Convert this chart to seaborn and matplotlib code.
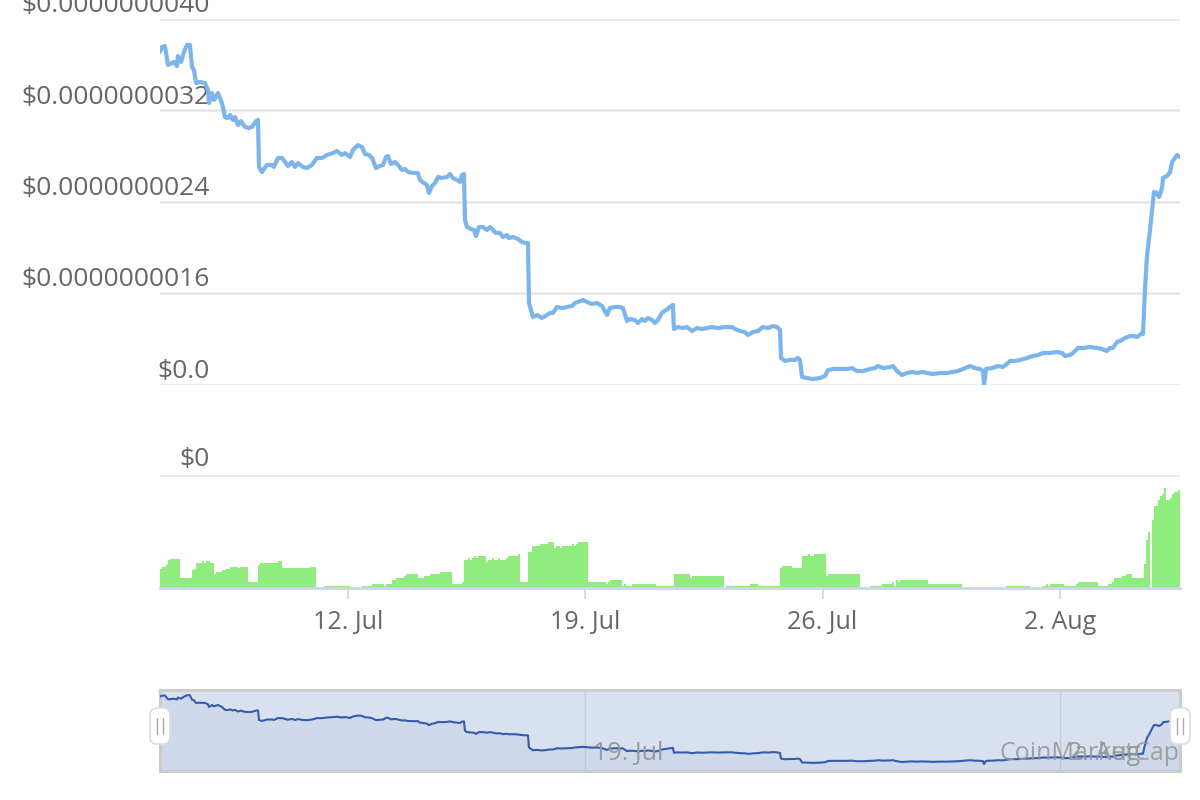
import pandas as pd
import seaborn as sns
import matplotlib.pyplot as plt
import matplotlib.transforms as mtransforms
from matplotlib.patches import FancyBboxPatch
from matplotlib.lines import Line2D

# time axis: hours after 6 Jul 11:00, price in units of 1e-9 USD
start = pd.Timestamp('2021-07-06 11:00')

price_hours = [
    0.0, 1.4, 3.5, 5.7, 8.5, 9.9, 12.0, 12.7, 14.9, 17.0, 19.1, 21.2, 22.7, 24.1, 25.5, 28.3, 31.9, 34.0,
    34.7, 36.8, 38.2, 41.1, 43.9, 46.0, 48.1, 49.6, 51.7, 53.1, 55.2, 57.3, 60.2, 63.0, 65.1, 68.0, 69.4,
    70.1, 72.2, 75.7, 79.3, 80.7, 83.5, 86.4, 88.5, 90.6, 93.4, 95.6, 97.7, 101.2, 104.1, 107.6, 111.1,
    114.7, 118.2, 122.5, 125.3, 128.8, 131.0, 134.5, 136.6, 140.2, 143.0, 145.1, 147.9, 150.1, 152.9,
    155.7, 157.9, 160.0, 161.4, 163.5, 166.3, 168.5, 171.3, 173.4, 175.6, 179.1, 182.6, 184.0, 186.9,
    189.0, 190.4, 192.5, 194.7, 196.8, 199.6, 203.2, 205.3, 207.4, 210.2, 212.4, 213.8, 215.2,
    215.9, 217.3, 220.1, 222.3, 223.7, 225.8, 228.6, 231.5, 233.6, 235.7, 237.8, 240.7, 242.8, 245.6,
    247.0, 249.9, 253.4, 256.2, 258.4, 260.5,
    261.2, 264.0, 266.9, 270.4, 273.9, 276.1, 278.2, 281.0, 284.6, 288.1, 291.6, 293.8, 295.9, 299.4,
    302.3, 305.8, 309.3, 312.9, 316.4, 318.5, 322.1, 325.6, 327.7, 330.6, 332.7, 336.2, 338.4, 341.2,
    343.3, 345.4, 348.3, 350.4, 352.5, 355.3, 358.2, 361.0, 363.1,
    363.8, 366.7, 370.2, 373.0, 376.6, 380.1, 383.7, 387.2, 390.7, 395.0, 399.9, 404.9, 407.0, 410.6,
    414.1, 416.2, 419.8, 423.3, 426.8, 430.4, 433.9, 436.7, 438.9,
    439.6, 442.4, 445.9, 449.5, 451.6, 453.0,
    454.5, 458.0, 462.2, 467.2, 470.7, 472.9, 476.4, 481.3, 486.3, 489.8, 493.4, 497.6, 502.6, 506.1,
    508.2, 511.8, 516.7, 518.9, 521.7, 525.2, 528.8, 532.3, 535.9, 539.4, 542.9, 547.2, 552.1, 557.1,
    561.3, 564.9, 568.4, 573.4, 576.9, 580.4, 582.6, 583.3, 584.7, 589.0, 593.2, 596.7, 600.3, 601.7,
    605.2, 608.8, 613.7, 618.0, 621.5, 625.0, 630.0, 635.0, 638.5, 640.6, 644.2, 646.3, 649.8, 653.4,
    658.3, 663.3, 666.8, 670.3, 672.5, 674.6, 677.4, 679.6, 683.1, 686.6, 688.7, 691.6, 694.4, 695.8,
    697.2, 698.6, 700.8, 703.6, 705.7, 707.2, 709.3, 710.0, 712.8, 715.0, 716.4, 718.5, 719.9, 722.0,
]
price_vals = [
    3.712, 3.755, 3.764, 3.598, 3.615, 3.624, 3.589, 3.677, 3.624, 3.712, 3.773, 3.773, 3.580, 3.554,
    3.440, 3.449, 3.440, 3.379, 3.266, 3.353, 3.292, 3.353, 3.266, 3.143, 3.134, 3.161, 3.117, 3.143,
    3.073, 3.108, 3.056, 3.047, 3.056, 3.108, 3.117,
    2.706, 2.662, 2.724, 2.724, 2.706, 2.785, 2.785, 2.750, 2.715, 2.750, 2.706, 2.741, 2.706, 2.697,
    2.724, 2.785, 2.785, 2.811, 2.828, 2.846, 2.811, 2.828, 2.793, 2.855, 2.898, 2.881, 2.820, 2.811,
    2.785, 2.697, 2.715, 2.724, 2.793, 2.802, 2.732, 2.750, 2.724, 2.680, 2.689, 2.662, 2.654, 2.654,
    2.592, 2.566, 2.549, 2.479, 2.540, 2.566, 2.619, 2.610, 2.619, 2.645, 2.610, 2.592, 2.575, 2.636,
    2.645,
    2.243, 2.181, 2.164, 2.155, 2.102, 2.181, 2.181, 2.155, 2.181, 2.155, 2.129, 2.129, 2.094, 2.111,
    2.085, 2.094, 2.077, 2.050, 2.042, 2.042,
    1.517, 1.394, 1.412, 1.386, 1.412, 1.430, 1.430, 1.482, 1.473, 1.482, 1.491, 1.517, 1.526, 1.543,
    1.526, 1.508, 1.517, 1.491, 1.412, 1.473, 1.482, 1.482, 1.473, 1.360, 1.377, 1.368, 1.342, 1.377,
    1.360, 1.386, 1.368, 1.342, 1.368, 1.430, 1.456, 1.482, 1.500,
    1.290, 1.307, 1.298, 1.307, 1.272, 1.298, 1.290, 1.298, 1.307, 1.298, 1.307, 1.307, 1.290, 1.272,
    1.263, 1.237, 1.263, 1.272, 1.307, 1.298, 1.316, 1.307, 1.281,
    1.036, 1.010, 1.019, 1.019, 1.036, 1.019,
    0.870, 0.861, 0.852, 0.861, 0.878, 0.931, 0.940, 0.940, 0.940, 0.948, 0.922, 0.922, 0.940, 0.948,
    0.966, 0.948, 0.957, 0.966, 0.922, 0.887, 0.905, 0.914, 0.905, 0.914, 0.905, 0.896, 0.905, 0.905,
    0.914, 0.922, 0.940, 0.966, 0.948, 0.940, 0.922, 0.800, 0.940, 0.948, 0.966, 0.957, 0.992, 1.010,
    1.010, 1.019, 1.036, 1.054, 1.062, 1.080, 1.080, 1.089, 1.080, 1.054, 1.062, 1.080, 1.124, 1.124,
    1.132, 1.124, 1.115, 1.097, 1.124, 1.124, 1.176, 1.185, 1.211, 1.228, 1.228, 1.220, 1.246, 1.246,
    1.631, 1.919, 2.155, 2.487, 2.479, 2.444, 2.522, 2.610, 2.627, 2.662, 2.750, 2.785, 2.811, 2.793,
]

# volume steps: start hour of each step and its height (100 = top gridline)
vol_start = [
    0.0, 1.4, 4.2, 5.7, 7.1, 14.2, 22.7, 24.1, 25.5, 29.7, 31.1, 32.6, 35.4, 38.2, 39.6, 43.9, 46.7,
    49.5, 55.2, 56.6, 62.3, 69.4, 70.8, 83.5, 86.4, 106.2, 110.4, 116.1, 134.5, 143.0, 150.1, 158.6,
    160.0, 164.2, 167.1, 172.7, 174.1, 182.6, 186.9, 191.1, 198.2, 206.7, 213.8, 215.2, 218.0, 219.4,
    220.9, 222.3, 223.7, 225.1, 230.8, 232.2, 235.0, 236.4, 239.3, 240.7, 244.9, 246.3, 253.4, 254.8,
    260.5, 263.3, 269.0, 274.6, 278.9, 280.3, 283.1, 284.6, 291.6, 293.1, 294.5, 295.9, 303.0, 315.7,
    317.1, 318.5, 327.0, 328.4, 329.9, 334.1, 351.1, 363.8, 375.2, 376.6, 399.2, 400.6, 417.6, 423.3,
    438.9, 440.3, 447.4, 454.4, 458.7, 460.1, 462.9, 471.4, 472.8, 495.5, 502.6, 511.1, 518.2, 519.6,
    521.0, 522.4, 523.8, 543.6, 567.7, 598.8, 615.8, 624.3, 627.2, 628.6, 630.0, 639.9, 648.4, 649.8,
    664.0, 671.1, 673.9, 675.3, 681.0, 683.8, 688.0, 696.5, 697.9, 699.4, 700.8, 702.2, 703.6, 706.4,
    707.9, 709.3, 710.7, 712.1, 714.9, 716.3, 717.8, 720.6,
]
vol_vals = [
    17.2, 18.9, 20.7, 24.6, 26.0, 8.6, 15.7, 17.2, 22.5, 24.3, 22.5, 24.3, 22.5, 12.4, 13.9, 15.7, 17.2,
    18.9, 17.5, 18.9, 5.0, 20.7, 22.5, 24.3, 17.5, 18.9, 0.0, 1.5, 0.0, 1.5, 3.3, 1.8,
    3.3, 6.8, 8.6, 10.4, 12.1, 8.6, 10.4, 12.1, 13.9, 3.3, 5.0, 24.6, 26.3, 24.6,
    26.3, 28.1, 26.3, 28.1, 22.8, 24.6, 26.3, 24.6, 26.3, 24.6, 26.3, 28.1, 29.9, 5.0,
    31.7, 37.0, 38.8, 40.5, 35.2, 37.0, 35.2, 37.0, 38.8, 37.0, 38.8, 40.5, 5.0, 3.6,
    5.0, 6.8, 1.5, 3.3, 1.5, 3.3, 1.5, 12.1, 8.9, 10.4, 0.0, 1.5, 3.3, 1.5,
    17.5, 19.2, 17.5, 28.1, 29.9, 28.1, 29.9, 10.4, 12.1, 0.0, 1.5, 3.3, 5.0, 1.5,
    6.8, 5.0, 6.8, 3.3, 0.0, 1.5, 0.0, 1.5, 3.3, 1.5, 3.3, 1.5, 3.3, 5.0,
    1.5, 3.3, 5.0, 8.6, 10.4, 12.1, 8.6, 21.0, 42.3, 49.4, 0.0, 60.1, 72.5, 77.8,
    81.4, 83.1, 88.5, 77.8, 79.6, 83.1, 84.9, 86.7,
]
vol_end = 722.0

price_ticks = [0.8, 1.6, 2.4, 3.2, 4.0]
price_labels = ['$0.0', '$0.0000000016', '$0.0000000024', '$0.0000000032', '$0.0000000040']
vol_top = 100
vol_label = '$0'
date_ticks = ['2021-07-12', '2021-07-19', '2021-07-26', '2021-08-02']
date_labels = ['12. Jul', '19. Jul', '26. Jul', '2. Aug']
nav_dates = ['2021-07-19', '2021-08-02']
nav_labels = ['19. Jul', '2. Aug']


def to_hours(d):
    return (pd.Timestamp(d) - start) / pd.Timedelta(hours=1)


sns.set_theme(style='white')
plt.rcParams['font.family'] = ['Open Sans', 'DejaVu Sans']

fig = plt.figure(figsize=(12, 8), dpi=100)
ax_p = fig.add_axes([0.1333, 0.51875, 0.85, 0.4575])
ax_v = fig.add_axes([0.1333, 0.265, 0.85, 0.14125])
ax_n = fig.add_axes([0.1333, 0.03625, 0.85, 0.10125])

# price
sns.lineplot(x=price_hours, y=price_vals, ax=ax_p, color='#7cb5ec', linewidth=3.0, zorder=3)
ax_p.set_xlim(0, vol_end)
ax_p.set_ylim(0.8, 4.0)
ax_p.set_yticks(price_ticks)
ax_p.set_yticklabels([])
ax_p.set_xticks([])
ax_p.grid(axis='y', color='#e6e6e6', linewidth=1.8)
ax_p.tick_params(left=False, bottom=False)
for s in ax_p.spines.values():
    s.set_visible(False)
lab_tr = mtransforms.offset_copy(ax_p.get_yaxis_transform(), fig=fig, y=1, units='dots')
for v, t in zip(price_ticks, price_labels):
    ax_p.text(0.049, v, t, transform=lab_tr, ha='right', va='bottom', fontsize=19,
              color='#666666', zorder=1, clip_on=False)

# volume
vol_edges = vol_start + [vol_end]
sns.histplot(x=vol_start, weights=vol_vals, bins=vol_edges, ax=ax_v, element='step',
             fill=True, color='#90ed7d', alpha=1, linewidth=0)
ax_v.set_xlim(0, vol_end)
ax_v.set_ylim(0, vol_top)
ax_v.set_ylabel('')
ax_v.set_yticks([vol_top])
ax_v.set_yticklabels([])
ax_v.grid(axis='y', color='#e6e6e6', linewidth=1.8)
ax_v.tick_params(axis='y', left=False)
for s in ['top', 'left', 'right']:
    ax_v.spines[s].set_visible(False)
ax_v.spines['bottom'].set_color('#ccd6eb')
ax_v.spines['bottom'].set_linewidth(2)
ax_v.set_xticks([to_hours(d) for d in date_ticks])
ax_v.set_xticklabels(date_labels, fontsize=18, color='#666666')
ax_v.tick_params(axis='x', bottom=True, length=8, width=1.2, color='#ccd6eb', pad=8)
vol_tr = mtransforms.offset_copy(ax_v.get_yaxis_transform(), fig=fig, y=3, units='dots')
ax_v.text(0.049, vol_top, vol_label, transform=vol_tr, ha='right', va='bottom', fontsize=19,
          color='#666666', clip_on=False)

# navigator
ax_n.set_facecolor('#d9e0f0')
sns.lineplot(x=price_hours, y=price_vals, ax=ax_n, color='#335cad', linewidth=1.5, zorder=3)
ax_n.fill_between(price_hours, price_vals, 0.5, color='#335cad', alpha=0.05, zorder=2, linewidth=0)
ax_n.set_xlim(0, vol_end)
ax_n.set_ylim(0.5, 4.0)
ax_n.set_xticks([])
ax_n.set_yticks([])
for h, t in zip([to_hours(d) for d in nav_dates], nav_labels):
    ax_n.axvline(h, color='#c2cbe0', linewidth=1, zorder=1)
    ax_n.text(h + 5.5, 1.25, t, fontsize=18, color='#999999', ha='left', va='center', zorder=4)
for s in ax_n.spines.values():
    s.set_color('#cccccc')
    s.set_linewidth(2.2)
ax_n.text(1.0, 1.25, 'CoinMarketCap', transform=ax_n.get_yaxis_transform(), fontsize=18,
          color='#999999', ha='right', va='center', alpha=0.9, zorder=4)

# navigator handles
for xc in [0.1333, 0.9833]:
    fig.add_artist(FancyBboxPatch((xc - 0.0083, 0.07), 0.0166, 0.045,
                                  boxstyle='round,pad=0,rounding_size=0.006', mutation_aspect=1.5,
                                  transform=fig.transFigure, facecolor='white', edgecolor='#dddddd',
                                  linewidth=1.2, zorder=5))
    for dx in [-0.0022, 0.0022]:
        fig.add_artist(Line2D([xc + dx, xc + dx], [0.083, 0.102], transform=fig.transFigure,
                              color='#aaaaaa', linewidth=1, zorder=6))

fig.savefig('out.png', dpi=100)
